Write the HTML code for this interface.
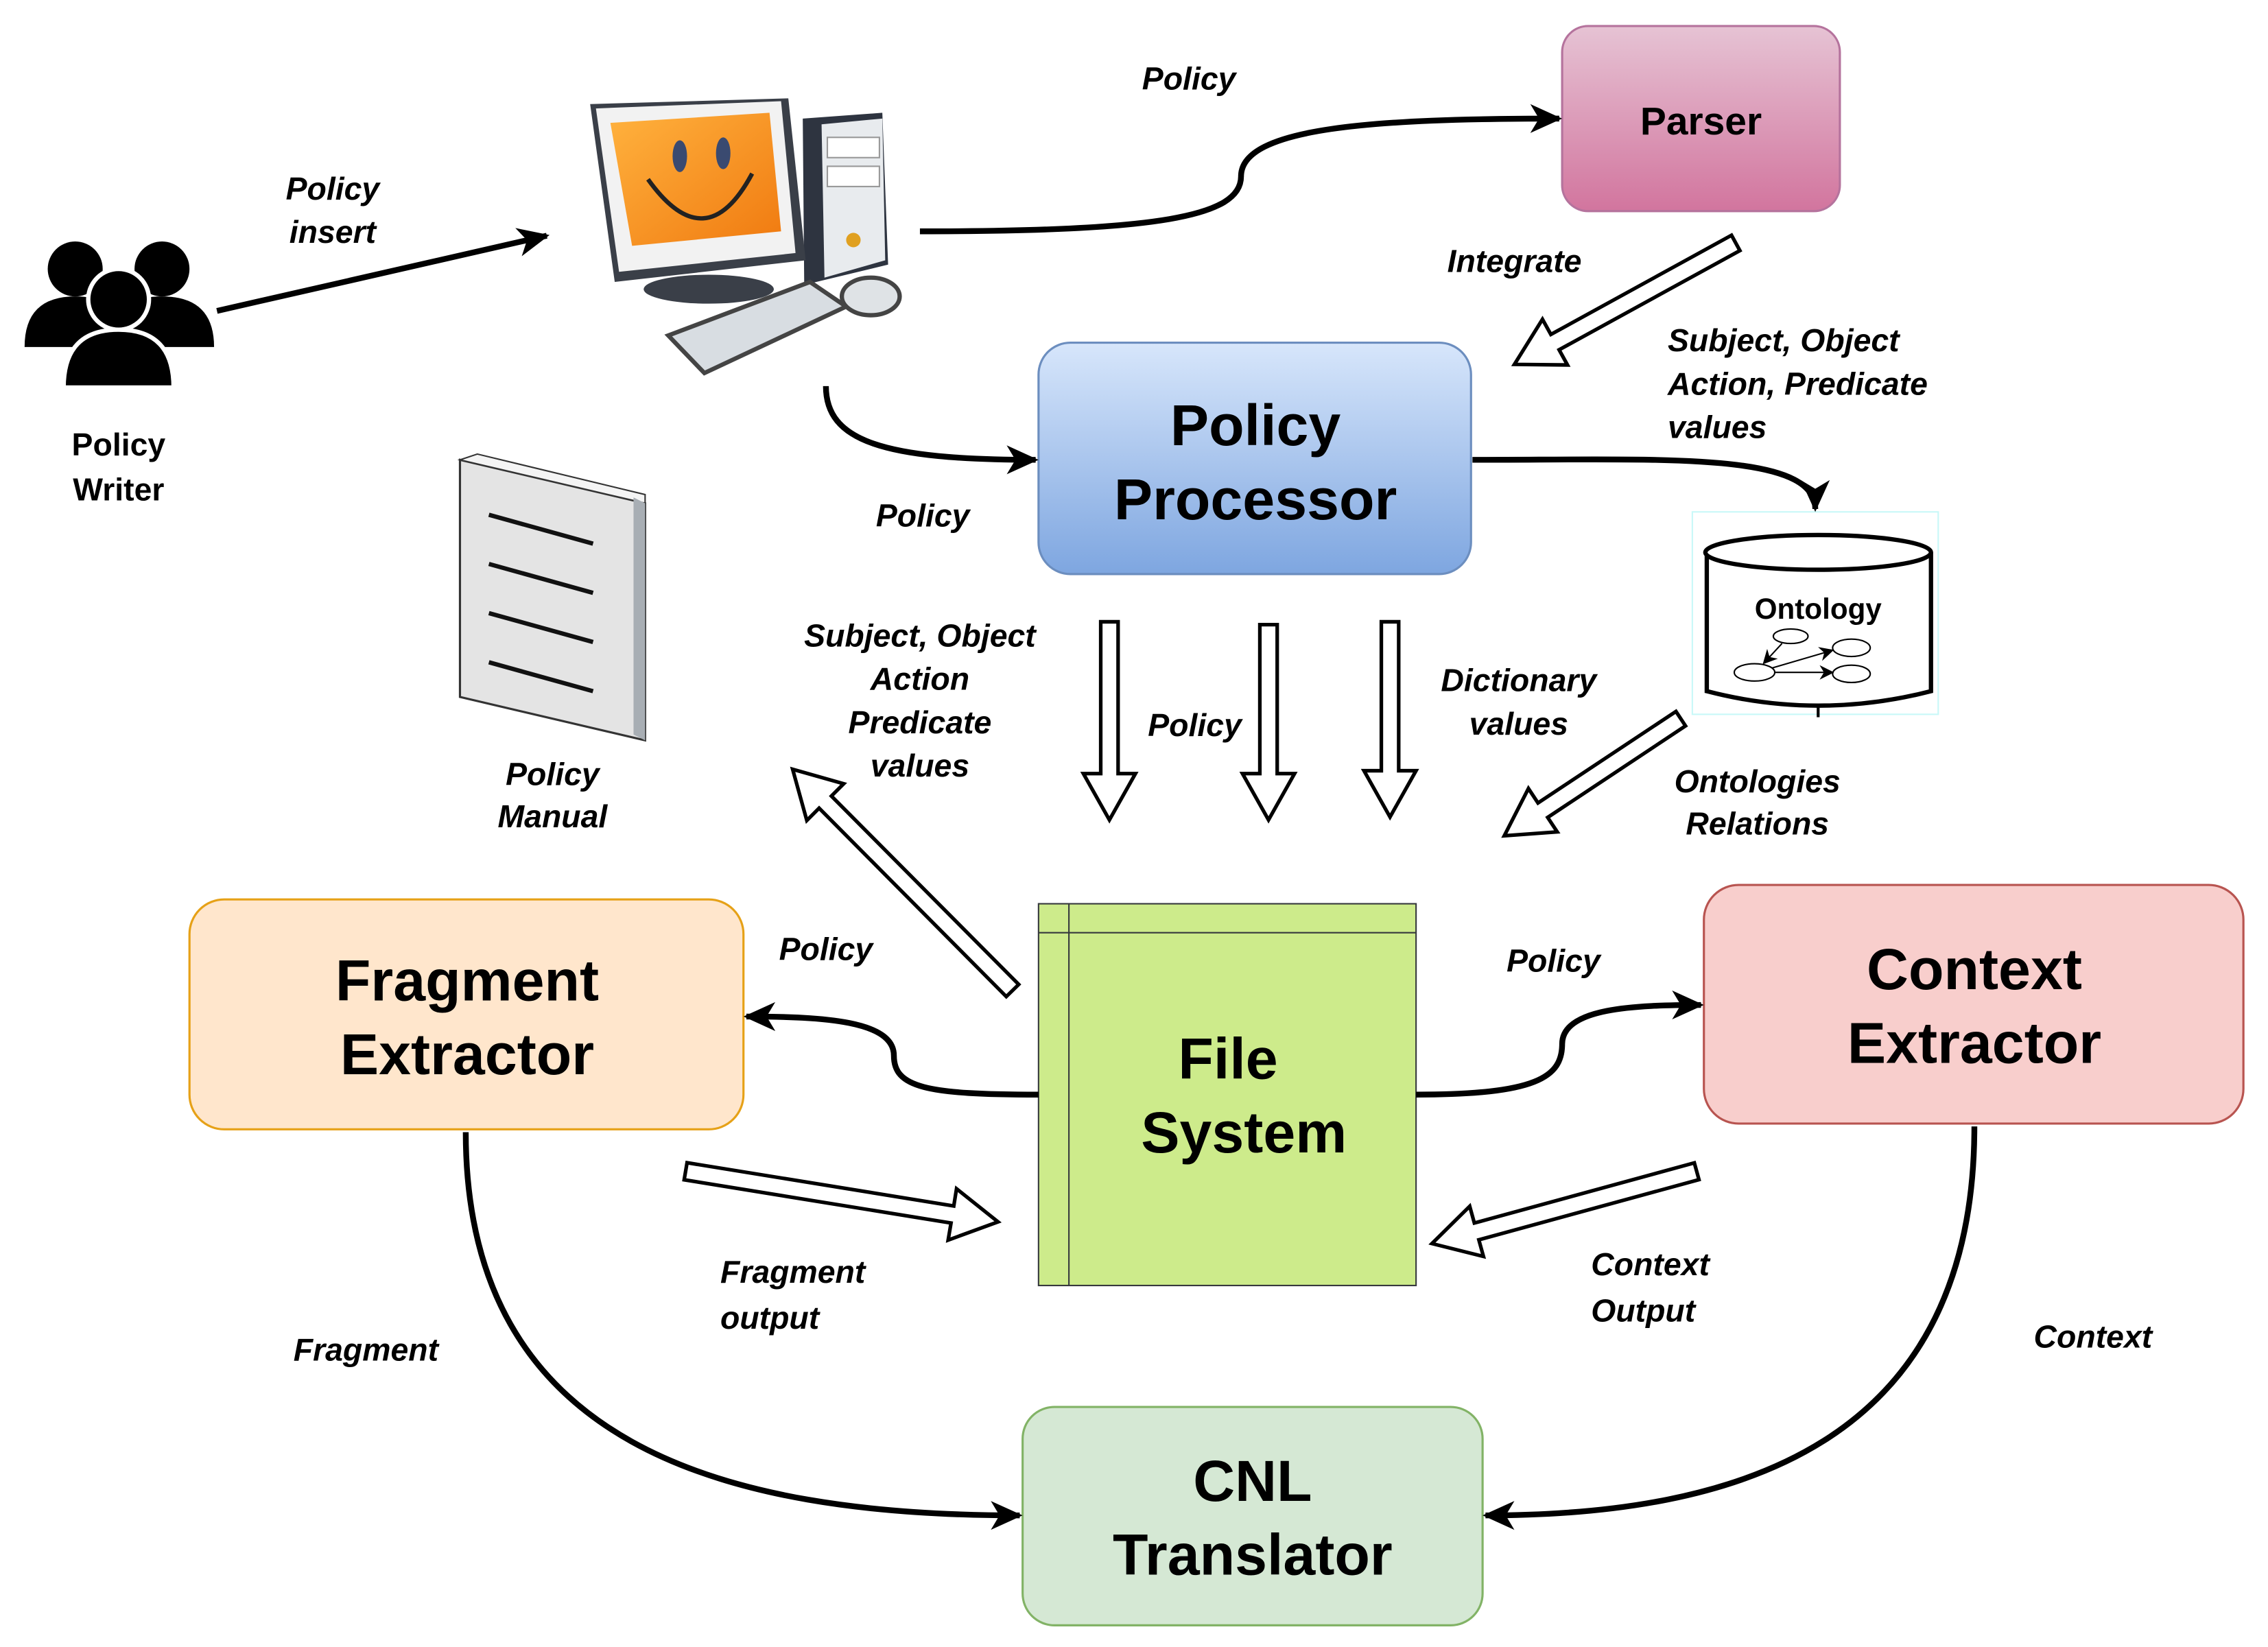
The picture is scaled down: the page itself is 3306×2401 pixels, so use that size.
<!DOCTYPE html>
<html><head><meta charset="utf-8"><style>
html,body{margin:0;padding:0;background:#fff;}
svg{display:block;}
text{font-family:"Liberation Sans",sans-serif;font-weight:bold;fill:#000;}
.l{font-style:italic;font-size:22px;}
.b{font-size:40px;}
</style></head><body>
<svg id="s" width="3306" height="2401" viewBox="0 0 1568 1139" preserveAspectRatio="none" xmlns="http://www.w3.org/2000/svg">
<defs>
<linearGradient id="gp" x1="0" y1="0" x2="0" y2="1"><stop offset="0" stop-color="#e6c3d4"/><stop offset="1" stop-color="#d2759e"/></linearGradient>
<linearGradient id="gb" x1="0" y1="0" x2="0" y2="1"><stop offset="0" stop-color="#d7e6fb"/><stop offset="1" stop-color="#7ea6e0"/></linearGradient>
<linearGradient id="go" x1="0" y1="0" x2="1" y2="1"><stop offset="0" stop-color="#ffb23e"/><stop offset="1" stop-color="#f07a10"/></linearGradient>
<marker id="ah" markerWidth="10" markerHeight="10" refX="8" refY="5" orient="auto" markerUnits="userSpaceOnUse" viewBox="0 0 10 10"><path d="M0,0 L10,5 L0,10 L3,5 Z" fill="#000"/></marker>
<marker id="a2" markerWidth="24" markerHeight="24" refX="20" refY="12" orient="auto" markerUnits="userSpaceOnUse" viewBox="0 0 24 24"><path d="M0,2 L22,12 L0,22 L6,12 Z" fill="#000"/></marker>
</defs>

<rect x="1080" y="18" width="192" height="128" rx="18" fill="url(#gp)" stroke="#b5739d" stroke-width="1.5"/>
<text x="1176" y="93" font-size="27" text-anchor="middle">Parser</text>
<rect x="718" y="237" width="299" height="160" rx="22" fill="url(#gb)" stroke="#6c8ebf" stroke-width="1.5"/>
<text x="868" y="308" class="b" text-anchor="middle">Policy</text>
<text x="868" y="359" class="b" text-anchor="middle">Processor</text>
<rect x="131" y="622" width="383" height="159" rx="24" fill="#ffe6cc" stroke="#e6a117" stroke-width="1.5"/>
<text x="323" y="692" class="b" text-anchor="middle">Fragment</text>
<text x="323" y="743" class="b" text-anchor="middle">Extractor</text>
<rect x="1178" y="612" width="373" height="165" rx="24" fill="#f8cecc" stroke="#b85450" stroke-width="1.5"/>
<text x="1365" y="684" class="b" text-anchor="middle">Context</text>
<text x="1365" y="735" class="b" text-anchor="middle">Extractor</text>
<rect x="718" y="625" width="261" height="264" fill="#cdeb8b" stroke="#36393d" stroke-width="1"/>
<line x1="739" y1="625" x2="739" y2="889" stroke="#36393d"/>
<line x1="718" y1="645" x2="979" y2="645" stroke="#36393d"/>
<text x="849" y="746" class="b" text-anchor="middle">File</text>
<text x="860" y="797" class="b" text-anchor="middle">System</text>
<rect x="707" y="973" width="318" height="151" rx="22" fill="#d5e8d4" stroke="#82b366" stroke-width="1.5"/>
<text x="866" y="1038" class="b" text-anchor="middle">CNL</text>
<text x="866" y="1089" class="b" text-anchor="middle">Translator</text>

<g fill="#000">
<circle cx="52" cy="186" r="19"/><circle cx="112" cy="186" r="19"/>
<path d="M17,240 Q17,205 52,205 Q80,205 86,225 L86,240 Z"/>
<path d="M148,240 Q148,205 112,205 Q84,205 78,225 L78,240 Z"/>
<circle cx="82" cy="207" r="21" stroke="#fff" stroke-width="3"/>
<path d="M44,268 Q44,228 82,228 Q120,228 120,268 Z" stroke="#fff" stroke-width="3"/>
</g>
<text x="82" y="315" font-size="22" text-anchor="middle">Policy</text>
<text x="82" y="346" font-size="22" text-anchor="middle">Writer</text>

<g>
<path d="M555,82 L610,78 L614,183 L556,197 Z" fill="#2e3440"/>
<path d="M568,86 L610,82 L612,180 L570,192 Z" fill="#e8ebee"/>
<rect x="572" y="95" width="36" height="14" fill="#fff" stroke="#999"/>
<rect x="572" y="115" width="36" height="14" fill="#fff" stroke="#999"/>
<circle cx="590" cy="166" r="5" fill="#e0a020"/>
<path d="M408,72 L545,68 L557,180 L425,195 Z" fill="#3a3f48"/>
<path d="M412,75 L540,70 L550,175 L428,188 Z" fill="#f2f2f2"/>
<path d="M422,85 L532,78 L540,160 L437,170 Z" fill="url(#go)"/>
<ellipse cx="470" cy="108" rx="5" ry="11" fill="#3a4a70"/><ellipse cx="500" cy="106" rx="5" ry="11" fill="#3a4a70"/>
<path d="M448,124 Q488,180 520,120" stroke="#222" stroke-width="3" fill="none"/>
<ellipse cx="490" cy="200" rx="45" ry="10" fill="#3a3f48"/>
<path d="M462,232 L560,195 L585,212 L487,258 Z" fill="#d8dde2" stroke="#444" stroke-width="3"/>
<ellipse cx="602" cy="205" rx="20" ry="13" fill="#dfe3e6" stroke="#444" stroke-width="3"/>
</g>

<path d="M318,318 L446,348 L446,512 L318,482 Z" fill="#e4e4e4" stroke="#333" stroke-width="1.5"/>
<path d="M318,318 L330,314 L446,342 L446,348 Z" fill="#f4f4f4" stroke="#333"/>
<path d="M438,344 L446,348 L446,512 L438,508 Z" fill="#a8aeb4"/>
<g stroke="#111" stroke-width="3"><line x1="338" y1="356" x2="410" y2="376"/><line x1="338" y1="390" x2="410" y2="410"/><line x1="338" y1="424" x2="410" y2="444"/><line x1="338" y1="458" x2="410" y2="478"/></g>
<text x="382" y="543" class="l" text-anchor="middle">Policy</text>
<text x="382" y="572" class="l" text-anchor="middle">Manual</text>

<rect x="1170" y="354" width="170" height="140" fill="#fff" stroke="#c8f8f8"/>
<path d="M1180,382 L1180,478 Q1257,498 1335,478 L1335,382" fill="#fff" stroke="#000" stroke-width="3"/>
<ellipse cx="1257" cy="382" rx="78" ry="12" fill="#fff" stroke="#000" stroke-width="3"/>
<line x1="1257" y1="488" x2="1257" y2="496" stroke="#000" stroke-width="2"/>
<text x="1257" y="428" font-size="20" text-anchor="middle" fill="#222">Ontology</text>
<g fill="none" stroke="#000" stroke-width="1"><ellipse cx="1238" cy="440" rx="12" ry="5"/><ellipse cx="1280" cy="448" rx="13" ry="6"/><ellipse cx="1213" cy="465" rx="14" ry="6"/><ellipse cx="1280" cy="466" rx="13" ry="6"/>
<line x1="1232" y1="445" x2="1220" y2="458" marker-end="url(#ah)"/><line x1="1225" y1="462" x2="1266" y2="450" marker-end="url(#ah)"/><line x1="1227" y1="465" x2="1266" y2="465" marker-end="url(#ah)"/></g>

<g fill="none" stroke="#000" stroke-width="4">
<path d="M150,215 L378,163" marker-end="url(#a2)"/>
<path d="M636,160 C800,160 858,150 858,122 C858,88 950,82 1078,82" marker-end="url(#a2)"/>
<path d="M571,267 C571,305 610,318 716,318" marker-end="url(#a2)"/>
<path d="M1018,318 C1150,318 1255,312 1255,352" marker-end="url(#a2)"/>
<path d="M718,757 C640,757 618,752 618,730 C618,706 570,703 516,703" marker-end="url(#a2)"/>
<path d="M979,757 C1062,757 1080,745 1080,722 C1080,697 1130,695 1176,695" marker-end="url(#a2)"/>
<path d="M322,783 C322,1000 500,1048 705,1048" marker-end="url(#a2)"/>
<path d="M1365,779 C1365,1000 1200,1048 1027,1048" marker-end="url(#a2)"/>
</g>
<g id="hol" fill="#fff" stroke="#000" stroke-width="2.5"></g>

<text x="230" y="138" class="l" text-anchor="middle">Policy</text>
<text x="230" y="168" class="l" text-anchor="middle">insert</text>
<text x="822" y="62" class="l" text-anchor="middle">Policy</text>
<text x="1047" y="188" class="l" text-anchor="middle">Integrate</text>
<text x="1153" y="243" class="l">Subject, Object</text>
<text x="1153" y="273" class="l">Action, Predicate</text>
<text x="1153" y="303" class="l">values</text>
<text x="638" y="364" class="l" text-anchor="middle">Policy</text>
<text x="636" y="447" class="l" text-anchor="middle">Subject, Object</text>
<text x="636" y="477" class="l" text-anchor="middle">Action</text>
<text x="636" y="507" class="l" text-anchor="middle">Predicate</text>
<text x="636" y="537" class="l" text-anchor="middle">values</text>
<text x="826" y="509" class="l" text-anchor="middle">Policy</text>
<text x="1050" y="478" class="l" text-anchor="middle">Dictionary</text>
<text x="1050" y="508" class="l" text-anchor="middle">values</text>
<text x="1215" y="548" class="l" text-anchor="middle">Ontologies</text>
<text x="1215" y="577" class="l" text-anchor="middle">Relations</text>
<text x="571" y="664" class="l" text-anchor="middle">Policy</text>
<text x="1074" y="672" class="l" text-anchor="middle">Policy</text>
<text x="498" y="887" class="l">Fragment</text>
<text x="498" y="919" class="l">output</text>
<text x="1100" y="882" class="l">Context</text>
<text x="1100" y="914" class="l">Output</text>
<text x="253" y="941" class="l" text-anchor="middle">Fragment</text>
<text x="1447" y="932" class="l" text-anchor="middle">Context</text>
</svg>
<script>
var arrows=[[767,430,767,567],[877,432,877,567],[961,430,961,565],[1200,168,1047,252],[1162,497,1040,578],[700,685,548,532],[474,810,690,845],[1173,810,990,860]];
var g=document.getElementById('hol');
arrows.forEach(function(a){
 var dx=a[2]-a[0],dy=a[3]-a[1],L=Math.sqrt(dx*dx+dy*dy),ux=dx/L,uy=dy/L,nx=-uy,ny=ux;
 var w=6,h=18,hl=32;
 function p(t,s){return (a[0]+ux*t+nx*s).toFixed(1)+','+(a[1]+uy*t+ny*s).toFixed(1);}
 var pts=[p(0,-w),p(L-hl,-w),p(L-hl,-h),p(L,0),p(L-hl,h),p(L-hl,w),p(0,w)].join(' ');
 var el=document.createElementNS('http://www.w3.org/2000/svg','polygon');
 el.setAttribute('points',pts);g.appendChild(el);
});
</script>
</body></html>
